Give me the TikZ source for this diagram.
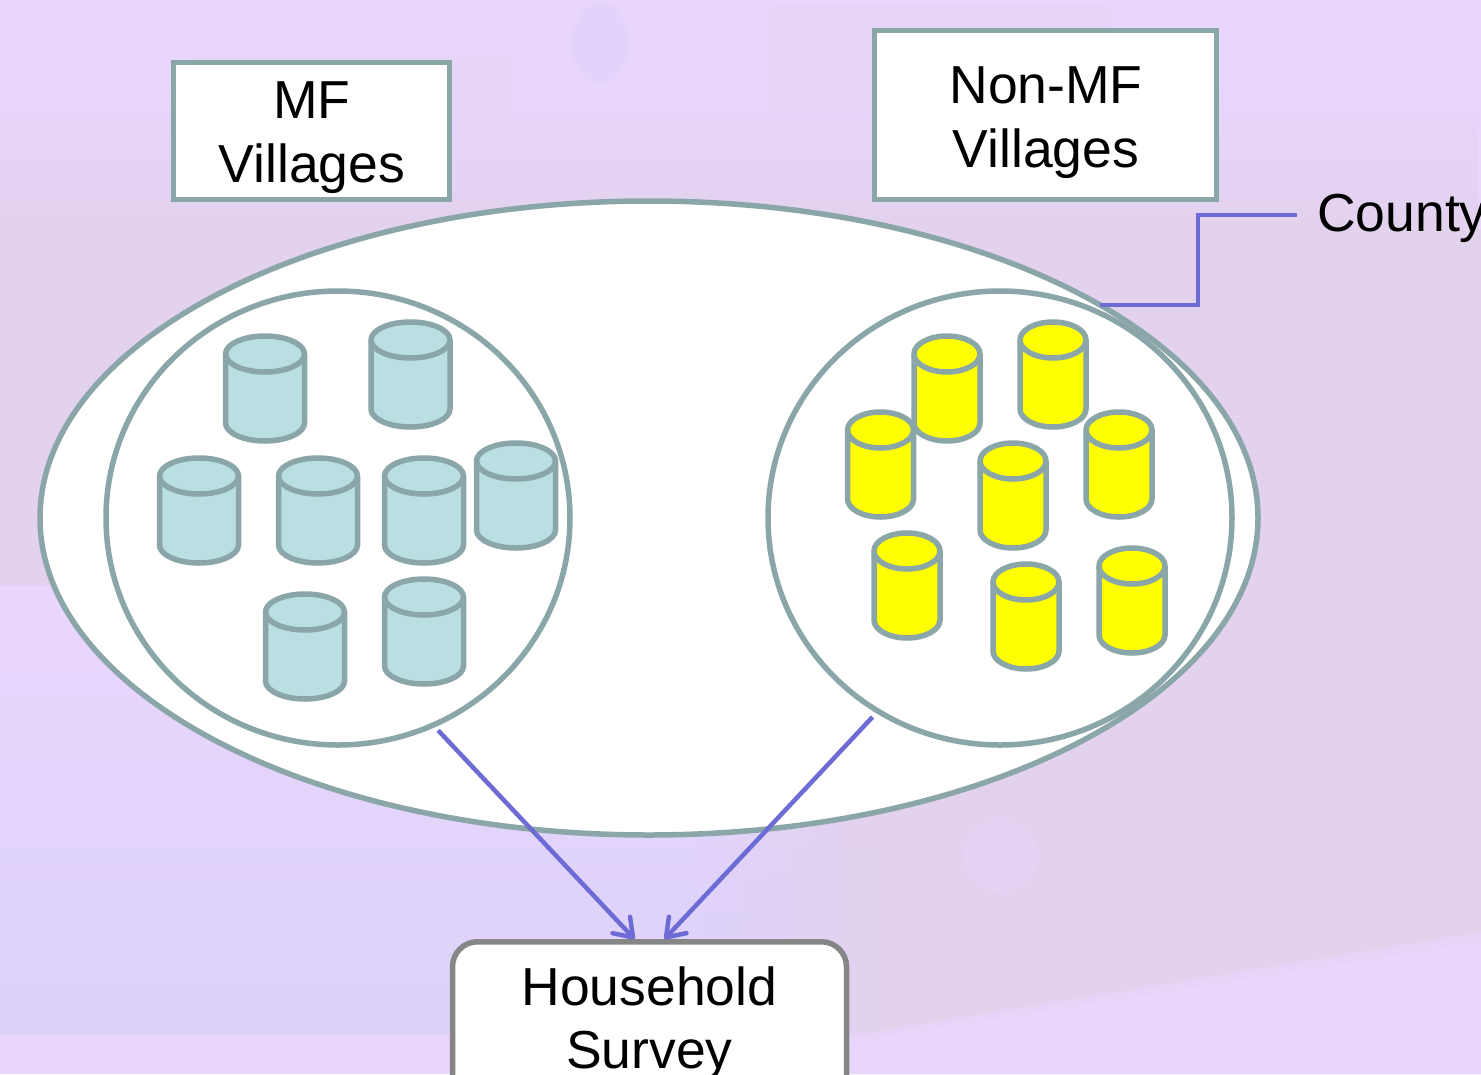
\documentclass[tikz,border=0pt]{standalone}
\usepackage{fontspec}
\setmainfont{Liberation Sans}
\usetikzlibrary{shapes.geometric,arrows.meta,calc,fadings}
\definecolor{bgtop}{HTML}{E9D6FC}
\definecolor{bgmid}{HTML}{E2D2EE}
\definecolor{bgblue}{HTML}{DCD2FA}
\definecolor{bgsoft}{HTML}{E7D5F8}
\definecolor{rim}{HTML}{8AA6A8}
\definecolor{cylblue}{HTML}{B9DFE3}
\definecolor{cylyel}{HTML}{FFFF00}
\definecolor{link}{HTML}{6C6CD4}
\definecolor{hhrim}{HTML}{868686}
\tikzset{
  labelbox/.style={draw=rim,line width=5.5pt,fill=white,inner sep=0pt},
  labeltext/.style={inner sep=0pt,align=center,font=\fontsize{53.5}{64}\selectfont},
  plainword/.style={inner sep=0pt,font=\fontsize{53.5}{64}\selectfont},
  ring/.style={draw=rim,line width=5.5pt,shape=ellipse,inner sep=0pt},
  canline/.style={draw=rim,line width=5.5pt,line join=round},
  linkline/.style={draw=link,line width=4.5pt,line join=miter},
  linkarrow/.style={linkline,-{Straight Barb[length=17pt,width=24pt,line width=4.5pt,round]}},
  spot/.style={path fading=circle with fuzzy edge 15 percent},
}
% name, centre x, top y, width, height, fill
\newcommand{\cancyl}[6]{%
  \pgfmathsetmacro{\cw}{#4/2}%
  \pgfmathsetmacro{\ch}{#5}%
  \pgfmathsetmacro{\cr}{18}%
  \node[inner sep=0pt,minimum width=#4pt,minimum height=#5pt] (#1) at (#2,#3+#5/2) {};
  \begin{scope}[shift={(#2,#3)}]
    \path[canline,fill=#6] (-\cw,\cr) -- (-\cw,\ch-\cr)
      .. controls (-\cw,\ch-0.45*\cr) and (-0.55*\cw,\ch) .. (0,\ch)
      .. controls (0.55*\cw,\ch) and (\cw,\ch-0.45*\cr) .. (\cw,\ch-\cr)
      -- (\cw,\cr)
      .. controls (\cw,0.45*\cr) and (0.55*\cw,0) .. (0,0)
      .. controls (-0.55*\cw,0) and (-\cw,0.45*\cr) .. (-\cw,\cr) -- cycle;
    \path[canline] (-\cw,\cr)
      .. controls (-\cw,1.55*\cr) and (-0.55*\cw,2*\cr) .. (0,2*\cr)
      .. controls (0.55*\cw,2*\cr) and (\cw,1.55*\cr) .. (\cw,\cr);
  \end{scope}
}
\begin{document}
\begin{tikzpicture}[x=1pt,y=-1pt]
\useasboundingbox (0,0) rectangle (1481,1074);
\clip (0,0) rectangle (1481,1074);
% background
\fill[bgtop] (0,0) rectangle (1481,1074);
\fill[bgsoft] (190,55) rectangle (510,125);
\fill[bgsoft] (770,5) rectangle (1110,110);
\fill[bgmid,path fading=north] (0,90) rectangle (1481,230);
\fill[bgmid] (0,229) rectangle (1481,585);
\shade[top color=bgtop,bottom color=bgblue] (0,585) rectangle (880,1035);
\fill[bgmid,path fading=west] (700,590) rectangle (880,1035);
\fill[bgmid] (879,585) rectangle (1481,1035);
\fill[bgtop] (0,1035) rectangle (1481,1074);
\fill[bgsoft] (850,1036) -- (1481,932) -- (1481,1074) -- (850,1074) -- cycle;
\fill[bgtop] (850,1042) -- (1481,942) -- (1481,1074) -- (850,1074) -- cycle;
\fill[bgblue,spot,opacity=.6] (570,0) rectangle (630,85);
\fill[bgtop,spot,opacity=.45] (960,815) rectangle (1040,895);
% rings
\node[ring,fill=white,minimum width=1218pt,minimum height=634pt] (county) at (649,518) {};
\node[ring,minimum width=464pt,minimum height=454pt] (mfring) at (338,518) {};
\node[ring,minimum width=464pt,minimum height=454pt] (nonring) at (1000,518) {};
% label boxes
\node[labelbox,minimum width=276pt,minimum height=137pt] (mfbox) at (311.5,131) {};
\node[labeltext] (mfword) at (312,138) {MF\\Villages};
\node[labelbox,minimum width=342pt,minimum height=169pt] (nonbox) at (1045.5,115) {};
\node[labeltext] (nonword) at (1046,122.5) {Non-MF\\Villages};
% blue cans
\cancyl{b1}{265}{336}{79}{105}{cylblue}
\cancyl{b2}{410.5}{322}{79}{105}{cylblue}
\cancyl{b3}{199}{458}{79}{105}{cylblue}
\cancyl{b4}{318}{458}{79}{105}{cylblue}
\cancyl{b5}{424}{458}{79}{105}{cylblue}
\cancyl{b6}{516}{443}{79}{105}{cylblue}
\cancyl{b7}{305}{594}{79}{105}{cylblue}
\cancyl{b8}{424}{579}{79}{105}{cylblue}
% yellow cans
\cancyl{y1}{947}{336}{66}{105}{cylyel}
\cancyl{y2}{1053}{322}{66}{105}{cylyel}
\cancyl{y3}{880.5}{412}{66}{105}{cylyel}
\cancyl{y4}{1119}{412}{66}{105}{cylyel}
\cancyl{y5}{1013}{443}{66}{105}{cylyel}
\cancyl{y6}{907}{533}{66}{105}{cylyel}
\cancyl{y7}{1026}{564}{66}{105}{cylyel}
\cancyl{y8}{1132}{548}{66}{105}{cylyel}
% household
\node[draw=hhrim,line width=5.5pt,fill=white,rounded corners=25pt,inner sep=0pt,minimum width=394pt,minimum height=200pt,anchor=north] (survey) at (649.5,939) {};
\node[anchor=base,plainword] (hhword) at (649.5,1005) {Household};
\node[anchor=base,plainword] (svword) at (649.5,1068) {Survey};
% county label
\node[anchor=base west,plainword] (countyword) at (1317,231) {County};
\coordinate (countyend) at (1297,215);
% connectors
\draw[linkline] ([xshift=-5pt]county.25.3) -| (1198,215) -- (countyend);
\draw[linkarrow] ([shift={(-1,5)}]mfring.-64.6) -- ([xshift=-15pt]survey.north);
\draw[linkarrow] ([shift={(-5,3)}]nonring.-122.8) -- ([xshift=15pt]survey.north);
\end{tikzpicture}
\end{document}
